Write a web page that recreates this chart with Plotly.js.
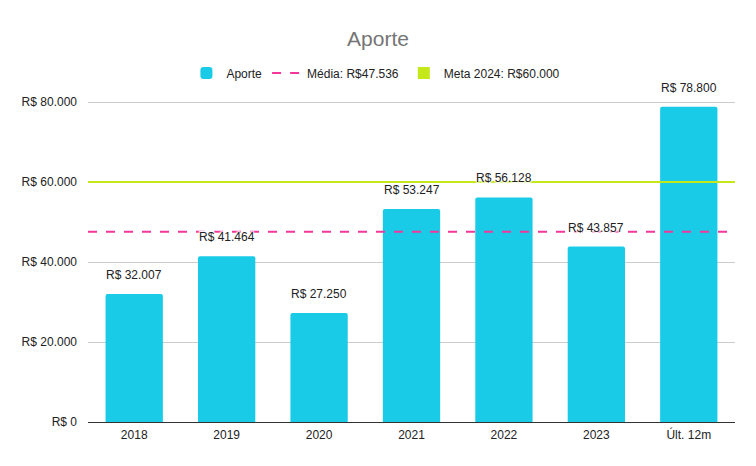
<!DOCTYPE html>
<html><head><meta charset="utf-8">
<script src="https://cdn.plot.ly/plotly-3.0.1.min.js"></script>
<style>html,body{margin:0;padding:0;background:#fff}#chart{width:756px;height:466px}</style>
</head><body><div id="chart"></div>
<script>
const categories = ["2018","2019","2020","2021","2022","2023","Últ. 12m"];
const aporte = [32007, 41464, 27250, 53247, 56128, 43857, 78800];
const media = 47536;
const meta = 60000;
const yTicks = [0, 20000, 40000, 60000, 80000];

function fmt(v){ return "R$ " + String(v).replace(/\B(?=(\d{3})+(?!\d))/g, "."); }

const cyan = "#1ACBE8", pink = "#F5379B", green = "#C5E81A";
const FONT = "Arial, 'Liberation Sans', sans-serif";

const data = [
  {type:"bar", x:categories, y:aporte, name:"Aporte", marker:{color:cyan, cornerradius:2}, hoverinfo:"skip"},
  {type:"scatter", x:[categories[0]], y:[null], mode:"lines", name:"Média: R$" + fmt(media).slice(3),
   line:{color:pink, width:2, dash:"dash"}},
  {type:"bar", x:[categories[0]], y:[0], name:"Meta 2024: R$" + fmt(meta).slice(3), marker:{color:green}}
];

const shapes = [
  {type:"line", xref:"paper", yref:"y", x0:0, x1:1, y0:meta, y1:meta, layer:"above", line:{color:green, width:2}},
  {type:"line", xref:"paper", yref:"y", x0:0, x1:1, y0:media, y1:media, layer:"above", line:{color:pink, width:2, dash:"dash"}}
];

const annotations = categories.map((c,i)=>({
  x:i, y:aporte[i], xref:"x", yref:"y", text:fmt(aporte[i]), showarrow:false, yshift:19,
  font:{family:FONT, size:12, color:"#222", shadow:"1px 1px 1px #fff, -1px -1px 1px #fff, 1px -1px 1px #fff, -1px 1px 1px #fff"}
}));

const layout = {
  width:756, height:466,
  margin:{l:88, r:21, t:86, b:44},
  paper_bgcolor:"#fff", plot_bgcolor:"#fff",
  separators:",.",
  barmode:"overlay",
  font:{family:FONT, size:12, color:"#222"},
  title:{text:"Aporte", x:0.5, xanchor:"center", y:0.918, yanchor:"middle", font:{family:FONT, size:21, color:"#757575"}},
  showlegend:true,
  legend:{orientation:"h", x:0.445, xanchor:"center", y:1.039, yanchor:"middle", font:{family:FONT, size:12, color:"#222"}, traceorder:"normal", itemwidth:30},
  bargap:0.38,
  xaxis:{type:"category", categoryorder:"array", categoryarray:categories, range:[-0.5, categories.length-0.5], autorange:false,
         tickfont:{family:FONT, size:12, color:"#222"}, showgrid:false, ticks:"", showline:false, ticklabelstandoff:4},
  yaxis:{range:[0,84000], autorange:false, tickvals:yTicks, ticktext:yTicks.map(fmt), showgrid:true, gridcolor:"#cccccc", gridwidth:1,
         zeroline:true, zerolinecolor:"#333", zerolinewidth:1, ticks:"", ticklabelstandoff:10, tickfont:{family:FONT, size:12, color:"#222"}},
  shapes:shapes,
  annotations:annotations
};

Plotly.newPlot("chart", data, layout, {displayModeBar:false, staticPlot:true});
</script></body></html>
